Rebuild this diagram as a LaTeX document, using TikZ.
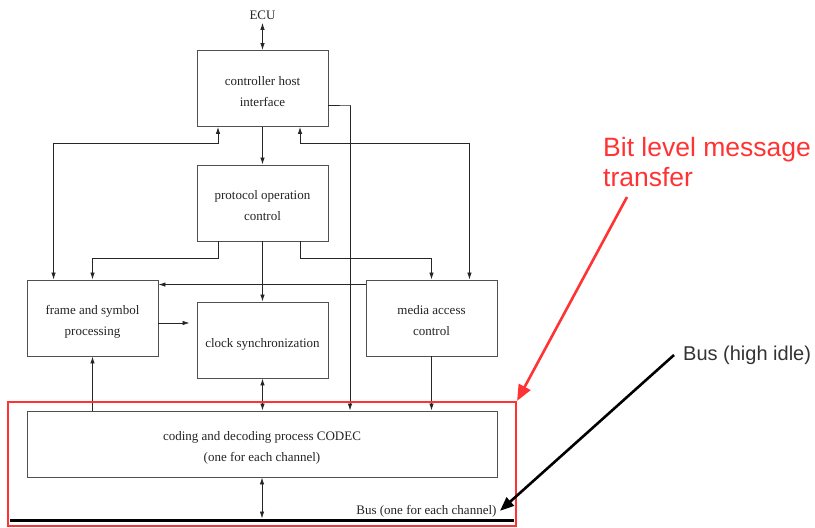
\documentclass[tikz,border=0pt]{standalone}
\usepackage{fontspec}
\setmainfont{Liberation Serif}
\newfontfamily\annfont{Liberation Sans}
\usetikzlibrary{arrows.meta,calc}
\definecolor{ann}{RGB}{255,51,51}
\definecolor{boxc}{RGB}{80,80,80}
\definecolor{txt}{RGB}{35,35,35}
\newcommand\tstrut{\rule{0pt}{17pt}}
\newcommand\bstrut{\rule[-3pt]{0pt}{3pt}}
\begin{document}
\begin{tikzpicture}[x=1pt,y=1pt,
  >={Latex[length=7pt,width=4.5pt]},
  blk/.style={draw=boxc, line width=0.9pt, minimum width=131pt, minimum height=76pt,
    inner sep=0pt, align=center, font=\fontsize{13}{21}\selectfont, text=txt},
  lbl/.style={font=\fontsize{13}{16}\selectfont, text=txt},
  conn/.style={draw=black!85, line width=0.8pt},
  redarrow/.style={draw=ann, line width=2.6pt, -{Triangle[length=16pt,width=13pt]}},
  blackarrow/.style={draw=black, line width=2.6pt, -{Triangle[length=14pt,width=11pt]}}]
\useasboundingbox (0,0) rectangle (815,-528);

% blocks
\node[lbl] (ecu) at (262.5,-15) {ECU};
\node[blk] (chi) at (262.5,-88.5) {\tstrut controller host\\interface\bstrut};
\node[blk] (poc) at (262.5,-203) {\tstrut protocol operation\\control\bstrut};
\node[blk] (fsp) at (92.5,-318) {\tstrut frame and symbol\\processing\bstrut};
\node[blk] (cs) at (262.5,-340) {\rule{0pt}{17pt}clock synchronization\bstrut};
\node[blk] (mac) at (431.5,-318) {\tstrut media access\\control\bstrut};
\node[blk, minimum width=470pt, minimum height=66pt] (codec) at (262,-444)
  {\tstrut coding and decoding process CODEC\\(one for each channel)\bstrut};

% bus
\coordinate (busL) at (10,-520);
\coordinate (busR) at (514,-520);
\draw[line width=3pt] (busL) -- (busR);
\node[lbl, anchor=base east] (buslbl) at (500,-514) {Bus (one for each channel)};

% connectors
\draw[conn,<->] (ecu.south) -- (chi.north);
\draw[conn,->] (chi.south) -- (poc.north);
\draw[conn,<->] ([xshift=-44.5pt]chi.south) -- ++(0,-16) -| ([xshift=27pt]fsp.north west);
\draw[conn,<->] ([xshift=37.5pt]chi.south) -- ++(0,-16) -| ([xshift=-28pt]mac.north east);
\draw[conn,->] ([xshift=-44.5pt]poc.south) -- ++(0,-17) -| (fsp.north);
\draw[conn,->] (poc.south) -- (cs.north);
\draw[conn,->] ([xshift=37.5pt]poc.south) -- ++(0,-17) -| (mac.north);
\coordinate (fspout) at ([yshift=-5pt]fsp.east);
\draw[conn,->,shorten >=7pt] (fspout) -- (fspout -| cs.west);
\draw[conn,->] ([yshift=-5pt]mac.north west) -- ([yshift=-5pt]fsp.north east);
\draw[conn,->] ([yshift=-16.5pt]chi.east) -- ++(22,0) -| ([xshift=88pt]codec.north);
\draw[conn,->] (mac.south) -- (mac.south |- codec.north);
\draw[conn,->] (fsp.south |- codec.north) -- (fsp.south);
\draw[conn,<->] (cs.south) -- (cs.south |- codec.north);
\draw[conn,<->,shorten >=1.5pt] (codec.south) -- (codec.south |- busL);

% annotations
\node[draw=ann, line width=2.2pt, minimum width=508pt, minimum height=124pt, inner sep=0pt]
  (bitbox) at (262,-464) {};
\node[anchor=north west, inner sep=0pt, align=left, text=ann,
  font=\annfont\fontsize{26.5}{30}\selectfont] (bitlbl) at (603,-137) {Bit level message\\transfer};
\coordinate (redstart) at (627,-197);
\draw[redarrow] (redstart) -- (bitbox.north east);

\node[anchor=west, inner sep=0pt, text=black!80, font=\annfont\fontsize{20}{24}\selectfont]
  (busidle) at (683,-355) {Bus (high idle)};
\draw[blackarrow] ([xshift=-9pt]busidle.west) -- (buslbl.east);
\end{tikzpicture}
\end{document}
